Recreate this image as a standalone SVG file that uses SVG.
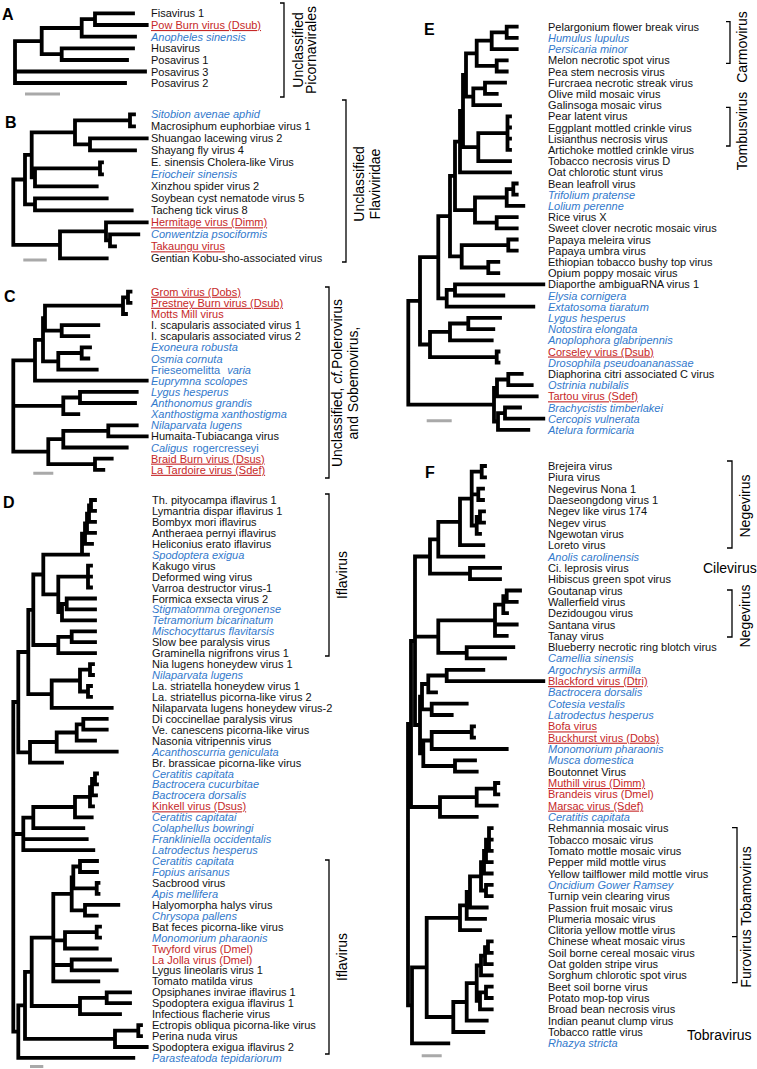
<svg xmlns="http://www.w3.org/2000/svg" width="757" height="1069" viewBox="0 0 757 1069">
<style>
text{font-family:"Liberation Sans",Arial,sans-serif;font-size:11px;fill:#111}
.b{fill:#3279cc;font-style:italic}
.bn{fill:#3279cc}
.r{fill:#c62828}
.u{text-decoration:underline}
.i{font-style:italic}
.lt{font-size:16px;font-weight:bold;fill:#000}
.cl{font-size:14px;fill:#000}
.tr{fill:none;stroke:#000;stroke-width:3.8;stroke-linecap:square}
.sb{fill:none;stroke:#a9a9a9;stroke-width:3}
.br{fill:none;stroke:#000;stroke-width:1.3}
</style>
<rect width="757" height="1069" fill="#fff"/>
<g id="connectors">
<path id="treeA" class="tr" d="M95 13.3H133M95 25H146.7M95 13.3V25M81.7 19.2H95M81.7 19.2V36.7M81.7 36.7H135M41.7 28H81.7M61.7 48.3H133M61.7 60H127M61.7 48.3V60M41.7 54.2H61.7M41.7 28V54.2M15 41.1H41.7M15 71.5H145M15 83H125M15 41.1V83"/>
<path id="treeB" class="tr" d="M130 114.3V126.3M130 114.3H134M130 126.3H134M75 120.3H130M90 138.3V150.3M90 138.3H146.7M90 150.3H135M75 144.3H90M75 120.3V144.3M31.7 132.3H75M100 162.3V174.3M100 162.3H102M100 174.3H102M35 168.3H100M35 186.3H96.7M35 168.3V186.3M31.7 177.3H35M31.7 132.3V177.3M25 154.8H31.7M35 198.3V210.3M35 198.3H106.7M35 210.3H131.7M25 204.3H35M25 154.8V204.3M13.3 179.5H25M110 234.3V246.3M110 234.3H138.3M110 246.3H115M106 240.3H110M106 222.3V240.3M106 222.3H146.7M60 231.3H106M60 231.3V258.3M60 258.3H106.7M13.3 244.8H60M13.3 179.5V244.8"/>
<path id="treeC" class="tr" d="M128 291.7V302.8M128 291.7H130.5M128 302.8H130.5M123 297.3H128M123 297.3V314M123 314H126M45 305.6H123M61.7 325.1V336.2M61.7 325.1H98.3M61.7 336.2H88.3M45 330.7H61.7M45 305.6V330.7M43 318.2H45M81.7 347.4V358.5M81.7 347.4H90M81.7 358.5H88.3M58.3 353H81.7M58.3 369.6H96.7M58.3 353V369.6M43 361.3H58.3M43 318.2V361.3M35 339.8H43M35 380.7H146.7M35 339.8V380.7M13.3 360.3H35M80 391.9V403M80 391.9H136.7M80 403H135M63.3 397.5H80M63.3 414.1H78.3M63.3 397.5V414.1M13.3 405.8H63.3M108.3 425.3V436.4M108.3 425.3H136.7M108.3 436.4H146.7M63.3 430.9H108.3M63.3 447.5H126.7M63.3 430.9V447.5M48.3 439.2H63.3M95 458.6V469.8M95 458.6H111.7M95 469.8H103.3M48.3 464.2H95M48.3 439.2V464.2M13.3 451.7H48.3M13.3 360.3V451.7"/>
<path id="treeD" class="tr" d="M91 500V510.9M91 500H95M91 510.9H95M89 505.5V521.9M89 505.5H91M89 521.9H95M87 513.7V532.8M87 513.7H89M87 532.8H95M85 523.3V543.8M85 523.3H87M85 543.8H92M82 533.6V554.7M82 533.6H85M43.3 554.7H88M88 565.6V587.5M88 565.6H91M88 576.6H91M88 587.5H91M58.3 576.6H88M66.7 598.5V609.4M66.7 598.5H95M66.7 609.4H95M62 604H66.7M62 620.3H95M62 604V620.3M58.3 612H62M58.3 576.6V612M43.3 594.3H58.3M43.3 554.7V594.3M71.7 631.3V642.2M71.7 631.3H95M71.7 642.2H95M58.3 636.8H71.7M58.3 636.8V653.2M58.3 653.2H95M33.3 574.5H43.3M33.3 645H58.3M33.3 574.5V645M90 664.1V675M90 664.1H93M90 675H93M88 686V696.9M88 686H91M88 696.9H91M80 669.6V691.5M80 669.6H90M80 691.5H88M51.7 680.5H80M51.7 680.5V707.9M51.7 707.9H111.7M28.3 609.8H33.3M28.3 694.2H51.7M28.3 609.8V694.2M83.3 718.8V729.7M83.3 718.8H106.7M83.3 729.7H106.7M76.7 724.3H83.3M76.7 724.3V740.7M76.7 740.7H95M56.7 732.5H76.7M56.7 732.5V751.6M56.7 751.6H116.7M30 742H56.7M30 742V762.6M30 762.6H62M18.3 652H28.3M18.3 752.3H30M18.3 652V752.3M95 773.5V784.4M95 773.5H97M95 784.4H97M92 779H95M92 779V795.4M92 795.4H96M90 787.2H92M90 787.2V806.3M90 806.3H93M75 796.8H90M75 796.8V817.3M75 817.3H91.7M33.3 807H75M33.3 807V828.2M33.3 828.2H83.3M23.3 817.6H33.3M23.3 817.6V850.1M23.3 839.1H86.7M23.3 850.1H93.3M13.3 834H23.3M80 861V872M80 861H97M80 872H97M96.7 882.9V893.8M96.7 882.9H98.5M96.7 893.8H98.5M73.3 866.5H80M73.3 888.4H96.7M73.3 866.5V888.4M85 904.8V915.7M85 904.8H118.3M85 915.7H96.7M71.7 877.5H73.3M71.7 910.3H85M71.7 877.5V910.3M96.7 926.7V937.6M96.7 926.7H100M96.7 937.6H100M65 932.2H96.7M65 948.5H96.7M65 932.2V948.5M71.7 959.5V970.4M71.7 959.5H110M71.7 970.4H116.7M53.3 893.9H71.7M53.3 940.4H65M53.3 965H71.7M53.3 981.4H98.3M53.3 893.9V981.4M106.7 992.3V1003.2M106.7 992.3H130M106.7 1003.2H130M80 997.8H106.7M80 1014.2H120M80 997.8V1014.2M31.7 937.7H53.3M31.7 1006H80M31.7 937.7V1006M138.3 1025.1V1036.1M138.3 1025.1H141M138.3 1036.1H141M115 1030.6H138.3M115 1047H146.7M115 1030.6V1047M25 971.9H31.7M25 1038.8H115M25 971.9V1038.8M18.3 1005.4H25M18.3 1057.9H133.3M18.3 1005.4V1057.9M13.3 1031.7H18.3M13.3 702H18.3M13.3 702V1031.7"/>
<path id="treeE" class="tr" d="M506.7 26.7V37.9M506.7 26.7H516.7M506.7 37.9H516.7M491.7 32.3H506.7M491.7 49.1H516.7M491.7 32.3V49.1M496.7 60.3V71.5M496.7 60.3H506.7M496.7 71.5H506.7M476.7 40.7H491.7M476.7 65.9H496.7M476.7 40.7V65.9M485 82.7V93.9M485 82.7H505M485 93.9H496.7M473.3 88.3H485M473.3 105.1H500M473.3 88.3V105.1M466 53.3H476.7M466 96.7H473.3M466 53.3V96.7M507.5 116.3V149.9M507.5 116.3H510M507.5 127.5H510M507.5 138.7H510M507.5 149.9H510M478.3 133.1H507.5M478.3 161.1H510M478.3 133.1V161.1M463 75H466M463 147.1H478.3M463 75V147.1M460 111H463M460 172.3H510M460 111V172.3M513.3 183.5V194.7M513.3 183.5H516.7M513.3 194.7H516.7M506.7 189.1H513.3M506.7 205.9H523.3M506.7 189.1V205.9M496.7 217.1V228.3M496.7 217.1H516.7M496.7 228.3H516.7M475 197.5H506.7M475 222.7H496.7M475 197.5V222.7M455 141.7H460M455 210.1H475M455 141.7V210.1M508.3 239.5V250.7M508.3 239.5H516.7M508.3 250.7H516.7M488.3 261.9V273.1M488.3 261.9H498.3M488.3 273.1H498.3M461.7 245.1H508.3M461.7 267.5H488.3M461.7 245.1V267.5M450 175.9H455M450 256.3H461.7M450 175.9V256.3M455 284.3V295.5M455 284.3H543.3M455 295.5H503.3M446.7 289.9H455M446.7 306.7H533.3M446.7 289.9V306.7M438.3 216.1H450M438.3 298.3H446.7M438.3 216.1V298.3M468.3 317.9V329.1M468.3 317.9H500M468.3 329.1H493.3M450 323.5H468.3M450 340.3H491.7M450 323.5V340.3M496.7 351.5V362.7M496.7 351.5H498.5M496.7 362.7H498.5M430 331.9H450M430 357.1H496.7M430 331.9V357.1M420 257.2H438.3M420 344.5H430M420 257.2V344.5M508.3 373.9V385.1M508.3 373.9H521.7M508.3 385.1H531.7M497 379.5H508.3M497 396.3H536.7M497 379.5V396.3M505 407.5V418.7M505 407.5H520M505 418.7H543.3M498 413.1H505M498 429.9H528.3M498 413.1V429.9M494 387.9H497M494 421.5H498M494 387.9V421.5M408.3 300.9H420M408.3 404.7H494M408.3 300.9V404.7"/>
<path id="treeF" class="tr" d="M481.7 466V477.3M481.7 466H485M481.7 477.3H485M478.3 488.6V500M478.3 488.6H483M478.3 500H483M480 511.3V522.6M480 511.3H484M480 522.6H484M476.7 517H480M476.7 533.9H480M476.7 517V533.9M471.7 471.7H481.7M471.7 494.3H478.3M471.7 525.5H476.7M471.7 471.7V525.5M460 498.6H471.7M460 545.2H483.3M460 498.6V545.2M438.3 521.9H460M438.3 556.6H483.3M438.3 521.9V556.6M470 567.9V579.2M470 567.9H500M470 579.2H500M430 539.3H438.3M430 573.6H470M430 539.3V573.6M506.7 590.5V601.8M506.7 590.5H520M506.7 601.8H516.7M503.3 596.2H506.7M503.3 613.2H507M503.3 596.2V613.2M495 604.7H503.3M495 624.5H516.7M495 635.8H506.7M495 604.7V635.8M466.7 647.1V658.4M466.7 647.1H513.3M466.7 658.4H505M438.3 620.3H495M438.3 652.8H466.7M438.3 620.3V652.8M446.7 669.8V681.1M446.7 669.8H483.3M446.7 681.1H543.3M428.3 675.5H446.7M428.3 692.4H436M428.3 675.5V692.4M431.7 703.7V715M431.7 703.7H466.7M431.7 715H451.7M422 684H428.3M422 709.4H431.7M422 684V709.4M471.7 726.4V737.7M471.7 726.4H474M471.7 737.7H474M431.7 732H471.7M431.7 749H506.7M431.7 732V749M455 760.3V771.6M455 760.3H475M455 771.6H476.7M423.3 740.5H431.7M423.3 766H455M423.3 740.5V766M420 696.7H422M420 753.3H423.3M420 696.7V753.3M415 556.5H430M415 636.6H438.3M415 725H420M415 556.5V725M495 783V794.3M495 783H498.3M495 794.3H498.3M476.7 788.7H495M476.7 805.6H496.7M476.7 788.7V805.6M440 797.2H476.7M440 816.9H476.7M440 797.2V816.9M411 640.8H415M411 807H440M411 640.8V807M489 828.2V850.9M489 828.2H491.7M489 839.6H491.7M489 850.9H491.7M486 839.6H489M486 862.2H491.7M486 839.6V862.2M484 850.9H486M484 873.5H491.7M484 850.9V873.5M486 884.8V896.2M486 884.8H491.7M486 896.2H491.7M481 862.2H484M481 890.5H486M481 862.2V890.5M470 876.4H481M470 907.5H486.7M470 876.4V907.5M466.7 892H470M466.7 918.8H485M466.7 892V918.8M460 905.4H466.7M460 930.1H480M460 905.4V930.1M488 941.4V952.8M488 941.4H491.7M488 952.8H491.7M485 947.1H488M485 964.1H491.7M485 947.1V964.1M481 955.6H485M481 975.4H491.7M481 955.6V975.4M486 986.7V998M486 986.7H491.7M486 998H491.7M480 992.4H486M480 1009.4H491.7M480 992.4V1009.4M476.7 965.5H481M476.7 1000.9H480M476.7 965.5V1000.9M466.7 983.2H476.7M466.7 1020.7H486.7M466.7 983.2V1020.7M453.3 1002H466.7M453.3 1032H483.3M453.3 1002V1032M426.7 917.8H460M426.7 1017H453.3M426.7 917.8V1017M412 967.4H426.7M412 1043.3H448.3M412 967.4V1043.3M408 723.9H411M408 1005.4H412M408 723.9V1005.4"/>
<path id="scalebars" class="sb" d="M25 94H60M23.3 260H46.7M33.3 473.3H53.3M30 1066.5H43.3M426.7 420.7H451.7M421.7 1055.7H441.7"/>
<path id="brackets" class="br" d="M280 3H284V97H280M342 100H346V262H342M325 287H329V478H325M325 494H329V656H325M325 860H329V1054H325M726 21.7H730V63.3H726M726 107.3H730V146H726M727 461H732V548H727M727 590H732V637H727M732 827.7H737V982.7H732M732 936.7H737"/>
</g>
<g id="panel-letters">
<text class="lt" x="2" y="20">A</text>
<text class="lt" x="5" y="128">B</text>
<text class="lt" x="4" y="302">C</text>
<text class="lt" x="3" y="508">D</text>
<text class="lt" x="424" y="35">E</text>
<text class="lt" x="425" y="478">F</text>
</g>
<g id="clade-labels">
<text class="cl" transform="translate(303 50) rotate(-90)" text-anchor="middle">Unclassified</text>
<text class="cl" transform="translate(316 50) rotate(-90)" text-anchor="middle">Picornavirales</text>
<text class="cl" transform="translate(364 184) rotate(-90)" text-anchor="middle">Unclassified</text>
<text class="cl" transform="translate(380 184) rotate(-90)" text-anchor="middle">Flaviviridae</text>
<text class="cl" transform="translate(342 383) rotate(-90)" text-anchor="middle">Unclassified, <tspan class="i">cf.</tspan>Polerovirus</text>
<text class="cl" transform="translate(358 383) rotate(-90)" text-anchor="middle">and Sobemovirus,</text>
<text class="cl" transform="translate(347 575) rotate(-90)" text-anchor="middle">Iflavirus</text>
<text class="cl" transform="translate(347 957) rotate(-90)" text-anchor="middle">Iflavirus</text>
<text class="cl" transform="translate(747 47) rotate(-90)" text-anchor="middle">Carmovirus</text>
<text class="cl" transform="translate(747 131) rotate(-90)" text-anchor="middle">Tombusvirus</text>
<text class="cl" transform="translate(750 506) rotate(-90)" text-anchor="middle">Negevirus</text>
<text class="cl" x="703" y="573">Cilevirus</text>
<text class="cl" transform="translate(750 616) rotate(-90)" text-anchor="middle">Negevirus</text>
<text class="cl" transform="translate(751 917) rotate(-90)" text-anchor="middle">Furovirus Tobamovirus</text>
<text class="cl" x="687" y="1040">Tobravirus</text>
</g>
<g id="labels-A">
<text x="151" y="17.3">Fisavirus 1</text>
<text x="151" y="29" class="r u">Pow Burn virus (Dsub)</text>
<text x="151" y="40.7" class="b">Anopheles sinensis</text>
<text x="151" y="52.3">Husavirus</text>
<text x="151" y="64">Posavirus 1</text>
<text x="151" y="75.5">Posavirus 3</text>
<text x="151" y="87">Posavirus 2</text>
</g>
<g id="labels-B">
<text x="151" y="118.3" class="b">Sitobion avenae aphid</text>
<text x="151" y="130.3">Macrosiphum euphorbiae virus 1</text>
<text x="151" y="142.3">Shuangao lacewing virus 2</text>
<text x="151" y="154.3">Shayang fly virus 4</text>
<text x="151" y="166.3">E. sinensis Cholera-like Virus</text>
<text x="151" y="178.3" class="b">Eriocheir sinensis</text>
<text x="151" y="190.3">Xinzhou spider virus 2</text>
<text x="151" y="202.3">Soybean cyst nematode virus 5</text>
<text x="151" y="214.3">Tacheng tick virus 8</text>
<text x="151" y="226.3" class="r u">Hermitage virus (Dimm)</text>
<text x="151" y="238.3" class="b">Conwentzia psociformis</text>
<text x="151" y="250.3" class="r u">Takaungu virus</text>
<text x="151" y="262.3">Gentian Kobu-sho-associated virus</text>
</g>
<g id="labels-C">
<text x="151" y="295.7" class="r u">Grom virus (Dobs)</text>
<text x="151" y="306.8" class="r u">Prestney Burn virus (Dsub)</text>
<text x="151" y="318" class="r">Motts Mill virus</text>
<text x="151" y="329.1">I. scapularis associated virus 1</text>
<text x="151" y="340.2">I. scapularis associated virus 2</text>
<text x="151" y="351.4" class="b">Exoneura robusta</text>
<text x="151" y="362.5" class="b">Osmia cornuta</text>
<text x="151" y="373.6" class="bn">Frieseomelitta <tspan class="i" dx="4">varia</tspan></text>
<text x="151" y="384.7" class="b">Euprymna scolopes</text>
<text x="151" y="395.9" class="b">Lygus hesperus</text>
<text x="151" y="407" class="b">Anthonomus grandis</text>
<text x="151" y="418.1" class="b">Xanthostigma xanthostigma</text>
<text x="151" y="429.3" class="b">Nilaparvata lugens</text>
<text x="151" y="440.4">Humaita-Tubiacanga virus</text>
<text x="151" y="451.5" class="bn"><tspan class="i">Caligus</tspan> <tspan dx="2">rogercresseyi</tspan></text>
<text x="151" y="462.6" class="r u">Braid Burn virus (Dsus)</text>
<text x="151" y="473.8" class="r u">La Tardoire virus (Sdef)</text>
</g>
<g id="labels-D">
<text x="152" y="504">Th. pityocampa iflavirus 1</text>
<text x="152" y="514.9">Lymantria dispar iflavirus 1</text>
<text x="152" y="525.9">Bombyx mori iflavirus</text>
<text x="152" y="536.8">Antheraea pernyi iflavirus</text>
<text x="152" y="547.8">Heliconius erato iflavirus</text>
<text x="152" y="558.7" class="b">Spodoptera exigua</text>
<text x="152" y="569.6">Kakugo virus</text>
<text x="152" y="580.6">Deformed wing virus</text>
<text x="152" y="591.5">Varroa destructor virus-1</text>
<text x="152" y="602.5">Formica exsecta virus 2</text>
<text x="152" y="613.4" class="b">Stigmatomma oregonense</text>
<text x="152" y="624.3" class="b">Tetramorium bicarinatum</text>
<text x="152" y="635.3" class="b">Mischocyttarus flavitarsis</text>
<text x="152" y="646.2">Slow bee paralysis virus</text>
<text x="152" y="657.2">Graminella nigrifrons virus 1</text>
<text x="152" y="668.1">Nia lugens honeydew virus 1</text>
<text x="152" y="679" class="b">Nilaparvata lugens</text>
<text x="152" y="690">La. striatella honeydew virus 1</text>
<text x="152" y="700.9">La. striatellus picorna-like virus 2</text>
<text x="152" y="711.9">Nilaparvata lugens honeydew virus-2</text>
<text x="152" y="722.8">Di coccinellae paralysis virus</text>
<text x="152" y="733.7">Ve. canescens picorna-like virus</text>
<text x="152" y="744.7">Nasonia vitripennis virus</text>
<text x="152" y="755.6" class="b">Acanthoscurria geniculata</text>
<text x="152" y="766.6">Br. brassicae picorna-like virus</text>
<text x="152" y="777.5" class="b">Ceratitis capitata</text>
<text x="152" y="788.4" class="b">Bactrocera cucurbitae</text>
<text x="152" y="799.4" class="b">Bactrocera dorsalis</text>
<text x="152" y="810.3" class="r u">Kinkell virus (Dsus)</text>
<text x="152" y="821.3" class="b">Ceratitis capitatai</text>
<text x="152" y="832.2" class="b">Colaphellus bowringi</text>
<text x="152" y="843.1" class="b">Frankliniella occidentalis</text>
<text x="152" y="854.1" class="b">Latrodectus hesperus</text>
<text x="152" y="865" class="b">Ceratitis capitata</text>
<text x="152" y="876" class="b">Fopius arisanus</text>
<text x="152" y="886.9">Sacbrood virus</text>
<text x="152" y="897.8" class="b">Apis mellifera</text>
<text x="152" y="908.8">Halyomorpha halys virus</text>
<text x="152" y="919.7" class="b">Chrysopa pallens</text>
<text x="152" y="930.7">Bat feces picorna-like virus</text>
<text x="152" y="941.6" class="b">Monomorium pharaonis</text>
<text x="152" y="952.5" class="r">Twyford virus (Dmel)</text>
<text x="152" y="963.5" class="r">La Jolla virus (Dmel)</text>
<text x="152" y="974.4">Lygus lineolaris virus 1</text>
<text x="152" y="985.4">Tomato matilda virus</text>
<text x="152" y="996.3">Opsiphanes invirae iflavirus 1</text>
<text x="152" y="1007.2">Spodoptera exigua iflavirus 1</text>
<text x="152" y="1018.2">Infectious flacherie virus</text>
<text x="152" y="1029.1">Ectropis obliqua picorna-like virus</text>
<text x="152" y="1040.1">Perina nuda virus</text>
<text x="152" y="1051">Spodoptera exigua iflavirus 2</text>
<text x="152" y="1061.9" class="b">Parasteatoda tepidariorum</text>
</g>
<g id="labels-E">
<text x="548" y="30.7">Pelargonium flower break virus</text>
<text x="548" y="41.9" class="b">Humulus lupulus</text>
<text x="548" y="53.1" class="b">Persicaria minor</text>
<text x="548" y="64.3">Melon necrotic spot virus</text>
<text x="548" y="75.5">Pea stem necrosis virus</text>
<text x="548" y="86.7">Furcraea necrotic streak virus</text>
<text x="548" y="97.9">Olive mild mosaic virus</text>
<text x="548" y="109.1">Galinsoga mosaic virus</text>
<text x="548" y="120.3">Pear latent virus</text>
<text x="548" y="131.5">Eggplant mottled crinkle virus</text>
<text x="548" y="142.7">Lisianthus necrosis virus</text>
<text x="548" y="153.9">Artichoke mottled crinkle virus</text>
<text x="548" y="165.1">Tobacco necrosis virus D</text>
<text x="548" y="176.3">Oat chlorotic stunt virus</text>
<text x="548" y="187.5">Bean leafroll virus</text>
<text x="548" y="198.7" class="b">Trifolium pratense</text>
<text x="548" y="209.9" class="b">Lolium perenne</text>
<text x="548" y="221.1">Rice virus X</text>
<text x="548" y="232.3">Sweet clover necrotic mosaic virus</text>
<text x="548" y="243.5">Papaya meleira virus</text>
<text x="548" y="254.7">Papaya umbra virus</text>
<text x="548" y="265.9">Ethiopian tobacco bushy top virus</text>
<text x="548" y="277.1">Opium poppy mosaic virus</text>
<text x="548" y="288.3">Diaporthe ambiguaRNA virus 1</text>
<text x="548" y="299.5" class="b">Elysia cornigera</text>
<text x="548" y="310.7" class="b">Extatosoma tiaratum</text>
<text x="548" y="321.9" class="b">Lygus hesperus</text>
<text x="548" y="333.1" class="b">Notostira elongata</text>
<text x="548" y="344.3" class="b">Anoplophora glabripennis</text>
<text x="548" y="355.5" class="r u">Corseley virus (Dsub)</text>
<text x="548" y="366.7" class="b">Drosophila pseudoananassae</text>
<text x="548" y="377.9">Diaphorina citri associated C virus</text>
<text x="548" y="389.1" class="b">Ostrinia nubilalis</text>
<text x="548" y="400.3" class="r u">Tartou virus (Sdef)</text>
<text x="548" y="411.5" class="b">Brachycistis timberlakei</text>
<text x="548" y="422.7" class="b">Cercopis vulnerata</text>
<text x="548" y="433.9" class="b">Atelura formicaria</text>
</g>
<g id="labels-F">
<text x="548" y="470">Brejeira virus</text>
<text x="548" y="481.3">Piura virus</text>
<text x="548" y="492.6">Negevirus Nona 1</text>
<text x="548" y="504">Daeseongdong virus 1</text>
<text x="548" y="515.3">Negev like virus 174</text>
<text x="548" y="526.6">Negev virus</text>
<text x="548" y="537.9">Ngewotan virus</text>
<text x="548" y="549.2">Loreto virus</text>
<text x="548" y="560.6" class="b">Anolis carolinensis</text>
<text x="548" y="571.9">Ci. leprosis virus</text>
<text x="548" y="583.2">Hibiscus green spot virus</text>
<text x="548" y="594.5">Goutanap virus</text>
<text x="548" y="605.8">Wallerfield virus</text>
<text x="548" y="617.2">Dezidougou virus</text>
<text x="548" y="628.5">Santana virus</text>
<text x="548" y="639.8">Tanay virus</text>
<text x="548" y="651.1">Blueberry necrotic ring blotch virus</text>
<text x="548" y="662.4" class="b">Camellia sinensis</text>
<text x="548" y="673.8" class="b">Argochrysis armilla</text>
<text x="548" y="685.1" class="r u">Blackford virus (Dtri)</text>
<text x="548" y="696.4" class="b">Bactrocera dorsalis</text>
<text x="548" y="707.7" class="b">Cotesia vestalis</text>
<text x="548" y="719" class="b">Latrodectus hesperus</text>
<text x="548" y="730.4" class="r u">Bofa virus</text>
<text x="548" y="741.7" class="r u">Buckhurst virus (Dobs)</text>
<text x="548" y="753" class="b">Monomorium pharaonis</text>
<text x="548" y="764.3" class="b">Musca domestica</text>
<text x="548" y="775.6">Boutonnet Virus</text>
<text x="548" y="787" class="r u">Muthill virus (Dimm)</text>
<text x="548" y="798.3" class="r">Brandeis virus (Dmel)</text>
<text x="548" y="809.6" class="r u">Marsac virus (Sdef)</text>
<text x="548" y="820.9" class="b">Ceratitis capitata</text>
<text x="548" y="832.2">Rehmannia mosaic virus</text>
<text x="548" y="843.6">Tobacco mosaic virus</text>
<text x="548" y="854.9">Tomato mottle mosaic virus</text>
<text x="548" y="866.2">Pepper mild mottle virus</text>
<text x="548" y="877.5">Yellow tailflower mild mottle virus</text>
<text x="548" y="888.8" class="b">Oncidium Gower Ramsey</text>
<text x="548" y="900.2">Turnip vein clearing virus</text>
<text x="548" y="911.5">Passion fruit mosaic virus</text>
<text x="548" y="922.8">Plumeria mosaic virus</text>
<text x="548" y="934.1">Clitoria yellow mottle virus</text>
<text x="548" y="945.4">Chinese wheat mosaic virus</text>
<text x="548" y="956.8">Soil borne cereal mosaic virus</text>
<text x="548" y="968.1">Oat golden stripe virus</text>
<text x="548" y="979.4">Sorghum chlorotic spot virus</text>
<text x="548" y="990.7">Beet soil borne virus</text>
<text x="548" y="1002">Potato mop-top virus</text>
<text x="548" y="1013.4">Broad bean necrosis virus</text>
<text x="548" y="1024.7">Indian peanut clump virus</text>
<text x="548" y="1036">Tobacco rattle virus</text>
<text x="548" y="1047.3" class="b">Rhazya stricta</text>
</g>
</svg>
